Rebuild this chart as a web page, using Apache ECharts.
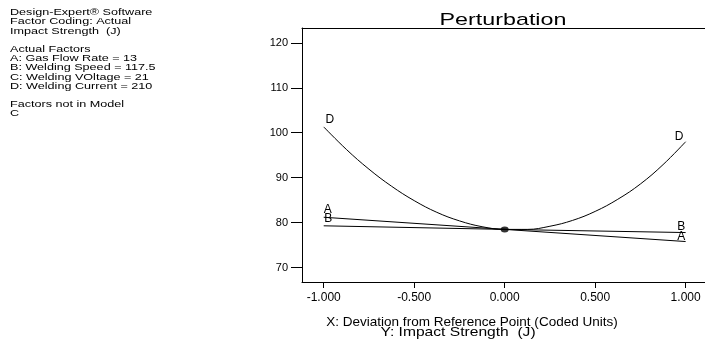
<!DOCTYPE html>
<html>
<head>
<meta charset="utf-8">
<script src="https://cdn.jsdelivr.net/npm/echarts@6/dist/echarts.min.js"></script>
<style>
  html, body { margin: 0; padding: 0; background: #fff; }
  #mychart { width: 705px; height: 347px; }
</style>
</head>
<body>
<div id="mychart"></div>
<script>
// deviation from reference point (coded units)
var xCoded = [-1, -0.875, -0.75, -0.625, -0.5, -0.375, -0.25, -0.125, 0,
              0.125, 0.25, 0.375, 0.5, 0.625, 0.75, 0.875, 1];
// D: welding current
var seriesD = [101.3, 96.3, 91.9, 88.1, 84.9, 82.3, 80.4, 79.1, 78.5,
               78.5, 79.2, 80.5, 82.5, 85.2, 88.6, 92.9, 98.0];
// A and B are straight lines
var xLine = [-1, 0, 1];
var seriesA = [81.2, 78.5, 75.8];
var seriesB = [79.3, 78.5, 77.8];
var refPoint = [0, 78.5];

var yTicks = [70, 80, 90, 100, 110, 120];
var xTicks = [-1, -0.5, 0, 0.5, 1];

var infoLines = [
    'Design-Expert\u00ae Software',
    'Factor Coding: Actual',
    'Impact Strength  (J)',
    '',
    'Actual Factors',
    'A: Gas Flow Rate = 13',
    'B: Welding Speed = 117.5',
    'C: Welding VOltage = 21',
    'D: Welding Current = 210',
    '',
    'Factors not in Model',
    'C'
];

var font = "'Liberation Sans', Arial, sans-serif";

function withLabels(xs, ys, offL, offR) {
    return xs.map(function (x, i) {
        var item = { value: [x, ys[i]] };
        if (i === 0 || i === xs.length - 1) {
            item.label = {
                show: true,
                position: 'inside',
                offset: i === 0 ? offL : offR
            };
        }
        return item;
    });
}

var lineLabel = {
    show: false,
    formatter: '{a}',
    color: '#000',
    fontSize: 12,
    fontFamily: font
};

var graphics = [];
infoLines.forEach(function (t, i) {
    if (!t) return;
    graphics.push({
        type: 'text',
        x: 10,
        y: 12.7 + i * 9.2,
        scaleX: 1.4,
        style: {
            text: t,
            fill: '#000',
            font: 'normal 9px ' + font,
            textVerticalAlign: 'middle'
        }
    });
});
graphics.push({
    type: 'text', x: 503, y: 20, scaleX: 1.37,
    style: { text: 'Perturbation', fill: '#000', font: 'normal 17px ' + font,
             textAlign: 'center', textVerticalAlign: 'middle' }
});
graphics.push({
    type: 'text', x: 472, y: 322, scaleX: 1.04,
    style: { text: 'X: Deviation from Reference Point (Coded Units)', fill: '#000',
             font: 'normal 13px ' + font, textAlign: 'center', textVerticalAlign: 'middle' }
});
graphics.push({
    type: 'text', x: 458, y: 332, scaleX: 1.2,
    style: { text: 'Y: Impact Strength  (J)', fill: '#000',
             font: 'normal 13px ' + font, textAlign: 'center', textVerticalAlign: 'middle' }
});

var dom = document.getElementById('mychart');
var mychart = echarts.init(dom, null, { renderer: 'canvas' });

var option = {
    animation: false,
    backgroundColor: '#fff',
    grid: {
        left: 302,
        top: 28,
        width: 403,
        height: 254,
        show: false
    },
    xAxis: [
        {
            type: 'value',
            position: 'bottom',
            min: -1.12,
            max: 1.107,
            splitLine: { show: false },
            axisLine: { show: true, onZero: false, lineStyle: { color: '#000', width: 1 } },
            axisTick: {
                show: true,
                customValues: xTicks,
                length: 6,
                lineStyle: { color: '#000' }
            },
            axisLabel: {
                customValues: xTicks,
                margin: 10,
                color: '#000',
                fontSize: 12,
                fontFamily: font,
                formatter: function (v) { return v.toFixed(3); }
            }
        },
        {
            // top frame line only
            type: 'value',
            position: 'top',
            min: -1.12,
            max: 1.107,
            splitLine: { show: false },
            axisLine: { show: true, onZero: false, lineStyle: { color: '#000', width: 1 } },
            axisTick: { show: false },
            axisLabel: { show: false }
        }
    ],
    yAxis: {
        type: 'value',
        position: 'left',
        min: 66.8,
        max: 123.3,
        splitLine: { show: false },
        axisLine: { show: true, onZero: false, lineStyle: { color: '#000', width: 1 } },
        axisTick: {
            show: true,
            customValues: yTicks,
            length: 11,
            lineStyle: { color: '#000' }
        },
        axisLabel: {
            customValues: yTicks,
            margin: 14,
            color: '#000',
            fontSize: 11,
            fontFamily: font
        }
    },
    series: [
        {
            name: 'D',
            type: 'line',
            smooth: 0.4,
            showSymbol: true,
            symbol: 'circle',
            symbolSize: 0,
            lineStyle: { color: '#000', width: 1 },
            itemStyle: { color: '#000' },
            label: lineLabel,
            emphasis: { disabled: true },
            data: withLabels(xCoded, seriesD, [6, -7], [-6.5, -5])
        },
        {
            name: 'A',
            type: 'line',
            showSymbol: true,
            symbol: 'circle',
            symbolSize: 0,
            lineStyle: { color: '#000', width: 1 },
            itemStyle: { color: '#000' },
            label: lineLabel,
            emphasis: { disabled: true },
            data: withLabels(xLine, seriesA, [4, -8], [-4.3, -4.5])
        },
        {
            name: 'B',
            type: 'line',
            showSymbol: true,
            symbol: 'circle',
            symbolSize: 0,
            lineStyle: { color: '#000', width: 1 },
            itemStyle: { color: '#000' },
            label: lineLabel,
            emphasis: { disabled: true },
            data: withLabels(xLine, seriesB, [4.5, -7], [-4.5, -5.7])
        },
        {
            name: 'ref',
            type: 'scatter',
            symbol: 'circle',
            symbolSize: [8, 6],
            itemStyle: { color: '#000' },
            emphasis: { disabled: true },
            data: [refPoint]
        }
    ],
    graphic: graphics
};

mychart.setOption(option);
</script>
</body>
</html>
